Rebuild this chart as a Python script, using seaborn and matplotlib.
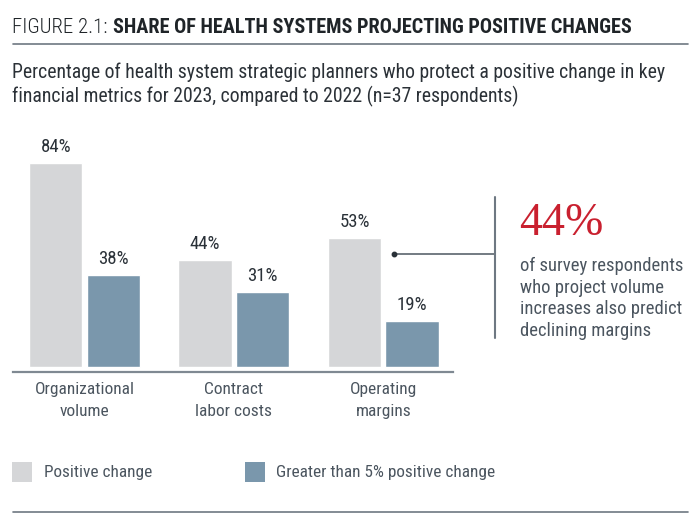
import matplotlib
matplotlib.use("Agg")
import matplotlib.pyplot as plt
from matplotlib.lines import Line2D
from matplotlib.patches import Rectangle
import seaborn as sns
import pandas as pd

# ---- data ----
categories = ["Organizational\nvolume", "Contract\nlabor costs", "Operating\nmargins"]
series_names = ["Positive change", "Greater than 5% positive change"]
positive_change = [84, 44, 53]
greater_than_5 = [38, 31, 19]
title_light = "FIGURE 2.1:"
title_bold = "SHARE OF HEALTH SYSTEMS PROJECTING POSITIVE CHANGES"
subtitle_lines = ["Percentage of health system strategic planners who protect a positive change in key",
                  "financial metrics for 2023, compared to 2022 (n=37 respondents)"]
callout_value = "44%"
callout_lines = ["of survey respondents", "who project volume", "increases also predict", "declining margins"]

df = pd.DataFrame({
    "category": categories * 2,
    "series": [series_names[0]] * 3 + [series_names[1]] * 3,
    "value": positive_change + greater_than_5,
})

GRAY = "#d5d6d8"
BLUE = "#7a97ac"
DARK = "#2a3138"
MID = "#4b555f"
LINE = "#6e7882"
RED = "#c9202f"

sns.set_theme(style="white")
FAM = ["Roboto Condensed", "DejaVu Sans"]
plt.rcParams["font.family"] = FAM

W, H = 700, 526
fig = plt.figure(figsize=(7, 5.26), dpi=100)
fx = lambda px: px / W
fy = lambda py: 1 - py / H

# axes placement (pixels): left 13, right 453, top 130, bottom 372
ax = fig.add_axes([fx(13), fy(372), fx(453) - fx(13), (372 - 130) / H])
sns.barplot(data=df, x="category", y="value", hue="series", palette=[GRAY, BLUE],
            width=0.773, gap=0.076, saturation=1, legend=False, ax=ax)
ax.set_xlim(-0.480, 2.467)
ax.set_ylim(-2.06, 97.5)
for s in ["top", "right", "left"]:
    ax.spines[s].set_visible(False)
ax.spines["bottom"].set_color("#7f8992")
ax.spines["bottom"].set_linewidth(1.6)
ax.set_yticks([])
ax.set_xlabel("")
ax.set_ylabel("")
ax.tick_params(axis="x", length=0, pad=7, labelsize=12.5, labelcolor=MID)
for lab in ax.get_xticklabels():
    lab.set_linespacing(1.6)
for cont in ax.containers:
    ax.bar_label(cont, labels=[f"{v:.0f}%" for v in cont.datavalues], padding=5,
                 fontsize=13.5, color=DARK)

# title
t1 = fig.text(fx(12), fy(33), title_light, fontsize=15, color="#1f2428",
              fontweight="light", va="baseline", ha="left")
fig.canvas.draw()
bb = t1.get_window_extent(fig.canvas.get_renderer())
fig.text(bb.x1 / W + fx(5), fy(33), title_bold, fontsize=14.6, color="#1f2428",
         fontweight="semibold", va="baseline", ha="left")
fig.add_artist(Line2D([fx(13), fx(688)], [fy(44), fy(44)], color=LINE, lw=1.2))

# subtitle
for i, line in enumerate(subtitle_lines):
    fig.text(fx(12), fy(78 + 24 * i), line, fontsize=14.2, color="#2b3137",
             va="baseline", ha="left")

# callout
fig.add_artist(Line2D([fx(394), fx(495)], [fy(254), fy(254)], color="#4d5761", lw=1.1))
fig.add_artist(Line2D([fx(394)], [fy(254)], marker="o", markersize=3.2, color="#2a3138"))
fig.add_artist(Line2D([fx(495), fx(495)], [fy(197), fy(338)], color="#6e7882", lw=1.5))
fig.text(fx(519), fy(235), callout_value, fontsize=33, color=RED,
         family=["Liberation Serif", "DejaVu Serif"], va="baseline", ha="left")
for i, line in enumerate(callout_lines):
    fig.text(fx(520), fy(271 + 21.7 * i), line, fontsize=13.4, color=MID,
             va="baseline", ha="left")

# legend
legend_x = [(12, 44), (245, 276)]
for (px, tx), name, col in zip(legend_x, series_names, [GRAY, BLUE]):
    fig.add_artist(Rectangle((fx(px), fy(482)), fx(20), 20 / H, color=col, lw=0))
    fig.text(fx(tx), fy(473), name, fontsize=12.4, color=MID, va="center", ha="left")

fig.add_artist(Line2D([fx(13), fx(688)], [fy(512), fy(512)], color=LINE, lw=1.2))

fig.savefig("out.png", dpi=100)
